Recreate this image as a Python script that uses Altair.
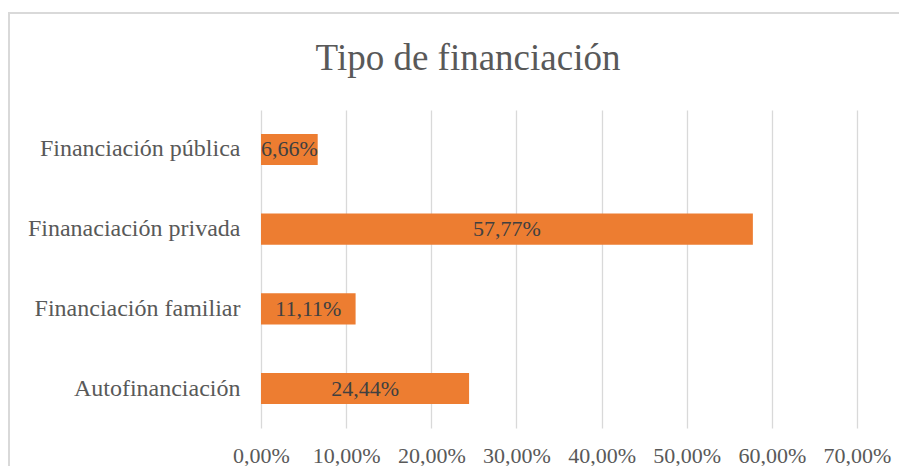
import altair as alt
import pandas as pd

categorias = ["Financiación pública", "Finanaciación privada", "Financiación familiar", "Autofinanciación"]
valores = [6.66, 57.77, 11.11, 24.44]
etiquetas = ["6,66%", "57,77%", "11,11%", "24,44%"]
ticks = [0, 10, 20, 30, 40, 50, 60, 70]

df = pd.DataFrame({"cat": categorias, "val": valores, "lab": etiquetas})

FONT = "Liberation Serif"

x_enc = alt.X(
    "val:Q",
    scale=alt.Scale(domain=[0, 70], nice=False),
    axis=alt.Axis(
        values=ticks,
        labelExpr="replace(format(datum.value, '.2f'), '.', ',') + '%'",
        title=None,
        domain=False,
        ticks=False,
        grid=True,
        gridColor="#d9d9d9",
        gridWidth=1.3,
        labelFont=FONT,
        labelFontSize=22,
        labelColor="#595959",
        labelPadding=27,
        labelBaseline="middle",
        labelOverlap=False,
        labelFlush=False,
    ),
)
y_enc = alt.Y(
    "cat:N",
    sort=categorias,
    scale=alt.Scale(paddingInner=0.61, paddingOuter=0.3),
    axis=alt.Axis(
        title=None,
        domain=False,
        ticks=False,
        grid=False,
        labelFont=FONT,
        labelFontSize=24,
        labelColor="#595959",
        labelPadding=21,
        labelLimit=400,
    ),
)

border = alt.Chart(df).mark_rect(fill=None, stroke="#d9d9d9", strokeWidth=1.5).encode(
    x=alt.value(-252), x2=alt.value(660), y=alt.value(-97), y2=alt.value(380)
)

bars = alt.Chart(df).mark_bar(color="#ED7D31").encode(x=x_enc, y=y_enc)

text = alt.Chart(df).mark_text(
    font=FONT, fontSize=22, color="#404040", baseline="middle", align="center"
).encode(
    x=alt.X("mid:Q"),
    y=alt.Y("cat:N", sort=categorias),
    text="lab:N",
).transform_calculate(mid="datum.val / 2")

chart = alt.layer(border, bars, text).properties(
    width=596,
    height=318,
    padding={"left": 253, "top": 102, "right": 42, "bottom": 38},
    autosize=alt.AutoSizeParams(type="none"),
    background="white",
    title=alt.TitleParams(
        "Tipo de financiación",
        font=FONT,
        fontSize=37,
        fontWeight="normal",
        color="#595959",
        anchor="middle",
        dx=-91,
        offset=-95,
        baseline="alphabetic",
    ),
).configure_view(stroke=None)

chart.save("out.html", embed_options={"renderer": "svg", "actions": False})
